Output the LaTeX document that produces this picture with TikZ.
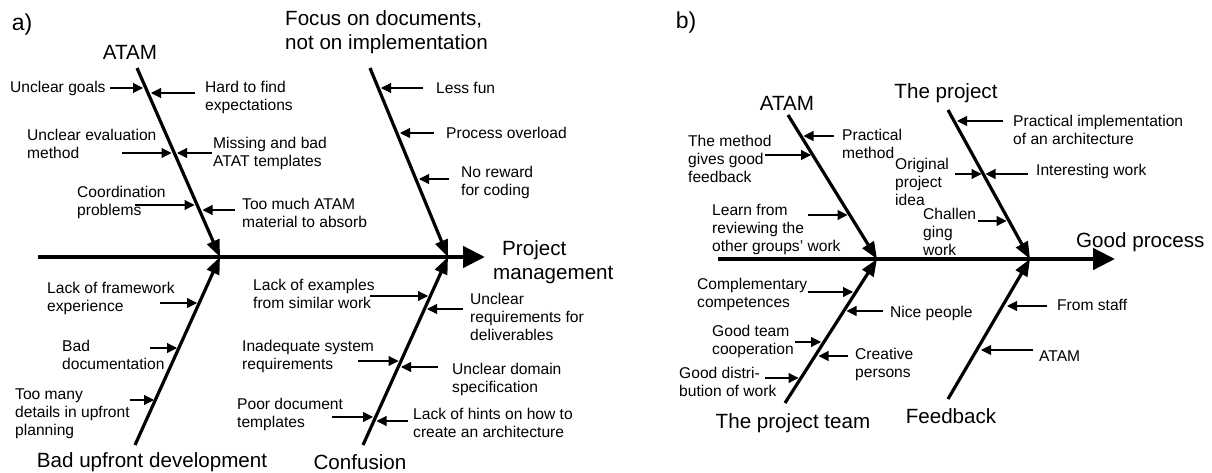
\documentclass[tikz,border=0pt]{standalone}
\usepackage{fontspec}
\setmainfont{Liberation Sans}
\usetikzlibrary{arrows.meta}
\tikzset{
    spine/.style = {line width=4.5pt, -{Triangle[length=22pt,width=21pt]}},
    bone/.style = {line width=3.2pt, -{Triangle[length=17pt,width=13pt]}},
    cause/.style = {line width=1.1pt, -{Triangle[length=10pt,width=10pt]}},
    smalltext/.style = {font=\fontsize{15.6}{18}\selectfont, align=left, anchor=west, inner sep=0pt}}

\begin{document}
\begin{tikzpicture}[x=1pt, y=-1pt,
    bigtext/.style = {font=\fontsize{20.6}{23.5}\selectfont, inner sep=0pt},
    paneltext/.style = {font=\fontsize{23}{26}\selectfont, inner sep=0pt}
    ]
    \useasboundingbox (0,0) rectangle (1212,473);

    % a) project management
    \node[paneltext] (PA) at (22,25) {a)};
    \coordinate (SA) at (38,257);
    \coordinate (HA) at (485,257);
    \coordinate (JA) at (220,257);
    \coordinate (KA) at (448,257);
    \coordinate (A1) at (137,68);
    \coordinate (A2) at (370,68);
    \coordinate (A3) at (135,445);
    \coordinate (A4) at (363,445);
    \draw[spine] (SA) -- (HA);
    \draw[bone] (A1) -- (JA);
    \draw[bone] (A2) -- (KA);
    \draw[bone] (A3) -- (JA);
    \draw[bone] (A4) -- (KA);

    \node[bigtext] (ATA) at (130,52) {ATAM};
    \node[bigtext, anchor=west, align=left] (FOC) at (285,32) {Focus on documents,\\not on implementation};
    \node[bigtext, anchor=west, align=left] (PM) at (493,262) {\hspace*{9pt}Project\\management};
    \node[bigtext] (BUD) at (152,462) {Bad upfront development};
    \node[bigtext] (CON) at (360,462) {Confusion};

    \node[smalltext] (C1) at (10,88) {Unclear goals};
    \node[smalltext] (C2) at (205,97.5) {Hard to find\\expectations};
    \node[smalltext] (C3) at (27,144) {Unclear evaluation\\method};
    \node[smalltext] (C4) at (213,153.5) {Missing and bad\\ATAT templates};
    \node[smalltext] (C5) at (77,202.5) {Coordination\\problems};
    \node[smalltext] (C6) at (242,212.5) {Too much ATAM\\material to absorb};
    \node[smalltext] (C7) at (436,88) {Less fun};
    \node[smalltext] (C8) at (446,133) {Process overload};
    \node[smalltext] (C9) at (461,182) {No reward\\for coding};
    \node[smalltext] (C10) at (47,298) {Lack of framework\\experience};
    \node[smalltext] (C11) at (62,355) {Bad\\documentation};
    \node[smalltext] (C12) at (15,413.5) {Too many\\details in upfront\\planning};
    \node[smalltext] (C13) at (253,294) {Lack of examples\\from similar work};
    \node[smalltext] (C14) at (470,317) {Unclear\\requirements for\\deliverables};
    \node[smalltext] (C15) at (242,356.5) {Inadequate system\\requirements};
    \node[smalltext] (C16) at (452,379.5) {Unclear domain\\specification};
    \node[smalltext] (C17) at (237,414) {Poor document\\templates};
    \node[smalltext] (C18) at (413,423) {Lack of hints on how to\\create an architecture};

    % arrows onto the bones of a)
    \coordinate (t1) at (110,88);   \coordinate (h1) at (143,88);   \draw[cause] (t1) -- (h1);
    \coordinate (t2) at (195,93);   \coordinate (h2) at (151,93);   \draw[cause] (t2) -- (h2);
    \coordinate (t3) at (122,153);  \coordinate (h3) at (171.5,153); \draw[cause] (t3) -- (h3);
    \coordinate (t4) at (212,153);  \coordinate (h4) at (177,153);  \draw[cause] (t4) -- (h4);
    \coordinate (t5) at (135,205);  \coordinate (h5) at (194.5,205); \draw[cause] (t5) -- (h5);
    \coordinate (t6) at (235,210);  \coordinate (h6) at (202.5,210); \draw[cause] (t6) -- (h6);
    \coordinate (t7) at (423,88);   \coordinate (h7) at (381,88);   \draw[cause] (t7) -- (h7);
    \coordinate (t8) at (434,133);  \coordinate (h8) at (400,133);  \draw[cause] (t8) -- (h8);
    \coordinate (t9) at (449,179);  \coordinate (h9) at (419,179);  \draw[cause] (t9) -- (h9);
    \coordinate (t10) at (160,303); \coordinate (h10) at (197,303); \draw[cause] (t10) -- (h10);
    \coordinate (t11) at (150,348); \coordinate (h11) at (177,348); \draw[cause] (t11) -- (h11);
    \coordinate (t12) at (130,400); \coordinate (h12) at (154,400); \draw[cause] (t12) -- (h12);
    \coordinate (t13) at (370,296); \coordinate (h13) at (428,296); \draw[cause] (t13) -- (h13);
    \coordinate (t14) at (463,309); \coordinate (h14) at (427,309); \draw[cause] (t14) -- (h14);
    \coordinate (t15) at (358,361); \coordinate (h15) at (398.5,361); \draw[cause] (t15) -- (h15);
    \coordinate (t16) at (438,367); \coordinate (h16) at (401,367); \draw[cause] (t16) -- (h16);
    \coordinate (t17) at (332,417); \coordinate (h17) at (373,417); \draw[cause] (t17) -- (h17);
    \coordinate (t18) at (408,421); \coordinate (h18) at (376.5,421); \draw[cause] (t18) -- (h18);

    % b) good process
    \node[paneltext] (PB) at (686,23) {b)};
    \coordinate (SB) at (718,259);
    \coordinate (HB) at (1115,259);
    \coordinate (JB) at (877,259);
    \coordinate (KB) at (1030,259);
    \coordinate (B1) at (788,115);
    \coordinate (B2) at (948,110);
    \coordinate (B3) at (785,403);
    \coordinate (B4) at (948,399);
    \draw[spine] (SB) -- (HB);
    \draw[bone] (B1) -- (JB);
    \draw[bone] (B2) -- (KB);
    \draw[bone] (B3) -- (JB);
    \draw[bone] (B4) -- (KB);

    \node[bigtext] (ATB) at (787,103) {ATAM};
    \node[bigtext] (PRJ) at (946,93) {The project};
    \node[bigtext, anchor=west] (GP) at (1076,242) {Good process};
    \node[bigtext] (TEAM) at (793,423) {The project team};
    \node[bigtext] (FB) at (951,416) {Feedback};

    \node[smalltext] (D1) at (842,144) {Practical\\method};
    \node[smalltext] (D2) at (688,159) {The method\\gives good\\feedback};
    \node[smalltext] (D3) at (712,229) {Learn from\\reviewing the\\other groups' work};
    \node[smalltext] (D4) at (1013,130) {Practical implementation\\of an architecture};
    \node[smalltext] (D5) at (895,182) {Original\\project\\idea};
    \node[smalltext] (D6) at (1036,171) {Interesting work};
    \node[smalltext] (D7) at (923,232) {Challen\\ging\\work};
    \node[smalltext] (D8) at (697,294) {Complementary\\competences};
    \node[smalltext] (D9) at (890,313) {Nice people};
    \node[smalltext] (D10) at (712,341) {Good team\\cooperation};
    \node[smalltext] (D11) at (855,364) {Creative\\persons};
    \node[smalltext] (D12) at (679,381.5) {Good distri-\\bution of work};
    \node[smalltext] (D13) at (1057,305) {From staff};
    \node[smalltext] (D14) at (1039,356) {ATAM};

    % arrows onto the bones of b)
    \coordinate (u1) at (834,136);   \coordinate (g1) at (803.5,136); \draw[cause] (u1) -- (g1);
    \coordinate (u2) at (765,155);   \coordinate (g2) at (811,155);   \draw[cause] (u2) -- (g2);
    \coordinate (u3) at (808,215);   \coordinate (g3) at (847.5,215); \draw[cause] (u3) -- (g3);
    \coordinate (u4) at (1003,121);  \coordinate (g4) at (957,121);   \draw[cause] (u4) -- (g4);
    \coordinate (u5) at (955,174);   \coordinate (g5) at (981.5,174); \draw[cause] (u5) -- (g5);
    \coordinate (u6) at (1028,174);  \coordinate (g6) at (985.5,174); \draw[cause] (u6) -- (g6);
    \coordinate (u7) at (978,221);   \coordinate (g7) at (1006.5,221); \draw[cause] (u7) -- (g7);
    \coordinate (u8) at (808,292);   \coordinate (g8) at (853,292);   \draw[cause] (u8) -- (g8);
    \coordinate (u9) at (883,311);   \coordinate (g9) at (846.5,311); \draw[cause] (u9) -- (g9);
    \coordinate (u10) at (795,342);  \coordinate (g10) at (821,342);  \draw[cause] (u10) -- (g10);
    \coordinate (u11) at (848,356);  \coordinate (g11) at (818.5,356); \draw[cause] (u11) -- (g11);
    \coordinate (u12) at (765,378);  \coordinate (g12) at (798.5,378); \draw[cause] (u12) -- (g12);
    \coordinate (u13) at (1047,306); \coordinate (g13) at (1007,306); \draw[cause] (u13) -- (g13);
    \coordinate (u14) at (1033,350); \coordinate (g14) at (981,350);  \draw[cause] (u14) -- (g14);
\end{tikzpicture}
\end{document}
